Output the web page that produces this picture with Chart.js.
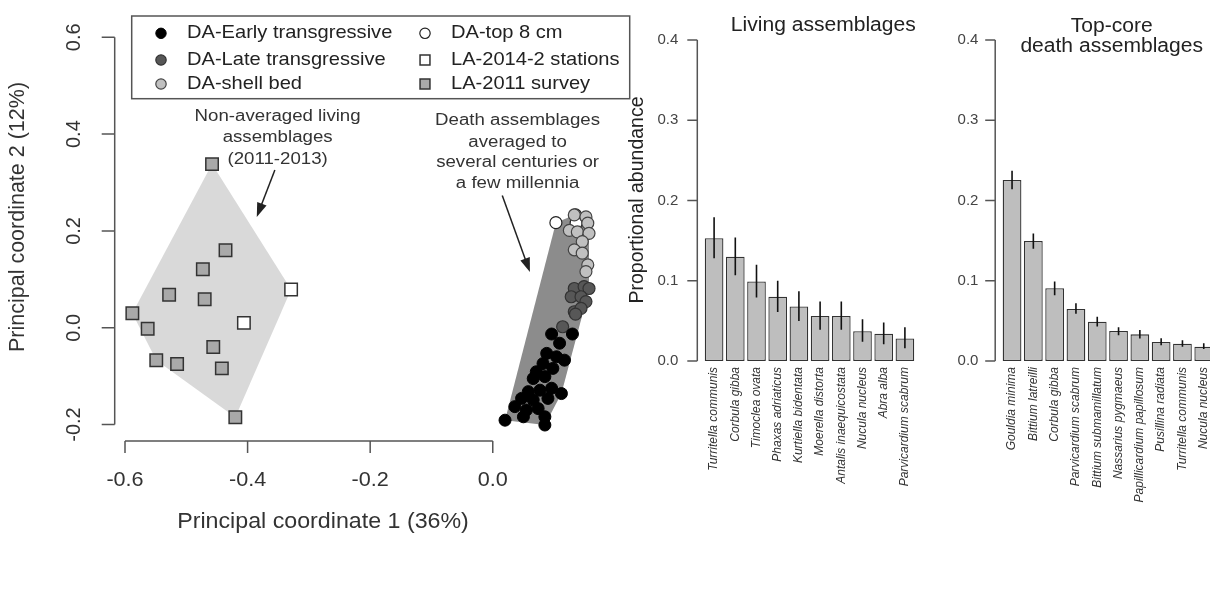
<!DOCTYPE html>
<html>
<head>
<meta charset="utf-8">
<script src="https://cdn.jsdelivr.net/npm/chart.js@4.4.0/dist/chart.umd.min.js"></script>
<style>
    html, body { margin: 0; padding: 0; background: #fff; overflow: hidden; }
    #wrap { position: relative; width: 1210px; height: 593px; overflow: hidden; }
    canvas { position: absolute; top: 0; }
</style>
</head>
<body>
<div id="wrap">
    <canvas id="pcoa-chart" width="640" height="593" style="left:0px"></canvas>
    <canvas id="living-chart" width="320" height="593" style="left:600px"></canvas>
    <canvas id="death-chart" width="320" height="593" style="left:900px"></canvas>
</div>
<script>
// ---- data ----
const pcoaXTicks = [-0.6, -0.4, -0.2, 0.0];
const pcoaYTicks = [-0.2, 0.0, 0.2, 0.4, 0.6];
const barTicks = [0.0, 0.1, 0.2, 0.3, 0.4];

// PCoA scores [coord 1, coord 2]
const laSurvey = [[-0.458, 0.338], [-0.436, 0.160], [-0.473, 0.121], [-0.528, 0.068], [-0.470, 0.059],
    [-0.588, 0.030], [-0.563, -0.002], [-0.549, -0.067], [-0.515, -0.075], [-0.456, -0.040],
    [-0.442, -0.084], [-0.420, -0.185]];
const laStations = [[-0.329, 0.079], [-0.406, 0.010]];
const daTop = [[0.103, 0.217], [0.135, 0.233], [0.136, 0.216]];
const daShellBed = [[0.133, 0.233], [0.152, 0.229], [0.155, 0.216], [0.125, 0.201], [0.138, 0.198],
    [0.157, 0.195], [0.146, 0.178], [0.133, 0.161], [0.146, 0.154], [0.155, 0.130], [0.152, 0.116]];
const daLate = [[0.133, 0.081], [0.149, 0.085], [0.157, 0.081], [0.128, 0.064], [0.144, 0.064],
    [0.152, 0.054], [0.133, 0.033], [0.144, 0.040], [0.114, 0.002], [0.135, 0.028]];
const daEarly = [[0.096, -0.013], [0.130, -0.013], [0.109, -0.032], [0.088, -0.053], [0.104, -0.060],
    [0.117, -0.067], [0.082, -0.074], [0.071, -0.091], [0.098, -0.084], [0.066, -0.105],
    [0.085, -0.101], [0.058, -0.132], [0.077, -0.129], [0.096, -0.125], [0.112, -0.136],
    [0.047, -0.146], [0.066, -0.149], [0.090, -0.146], [0.036, -0.163], [0.055, -0.170],
    [0.074, -0.167], [0.050, -0.184], [0.085, -0.184], [0.020, -0.191], [0.085, -0.201]];

const livingTaxa = ['Turritella communis', 'Corbula gibba', 'Timoclea ovata', 'Phaxas adriaticus',
    'Kurtiella bidentata', 'Moerella distorta', 'Antalis inaequicostata', 'Nucula nucleus',
    'Abra alba', 'Parvicardium scabrum'];
const livingMean = [0.153, 0.130, 0.099, 0.080, 0.068, 0.056, 0.056, 0.037, 0.034, 0.028];
const livingLow = [0.128, 0.107, 0.079, 0.061, 0.050, 0.039, 0.039, 0.024, 0.021, 0.016];
const livingHigh = [0.179, 0.154, 0.120, 0.100, 0.087, 0.074, 0.074, 0.052, 0.048, 0.042];

const deathTaxa = ['Gouldia minima', 'Bittium latreilli', 'Corbula gibba', 'Parvicardium scabrum',
    'Bittium submamillatum', 'Nassarius pygmaeus', 'Papillicardium papillosum', 'Pusillina radiata',
    'Turritella communis', 'Nucula nucleus'];
const deathMean = [0.2255, 0.1495, 0.0906, 0.0648, 0.049, 0.0374, 0.0332, 0.0237, 0.0216, 0.0178];
const deathLow = [0.214, 0.140, 0.082, 0.059, 0.043, 0.032, 0.028, 0.0196, 0.0178, 0.015];
const deathHigh = [0.237, 0.159, 0.099, 0.072, 0.055, 0.042, 0.0386, 0.0283, 0.026, 0.022];

// ---- helpers ----
const FONT = '"Liberation Sans", Arial, Helvetica, sans-serif';
const STRETCH = 1.08; // the source figure is a little wider than tall

const toXY = (pts) => pts.map(p => ({x: p[0], y: p[1]}));

// convex hull (monotone chain), closed
function hull(pts) {
    const p = toXY(pts).sort((a, b) => a.x - b.x || a.y - b.y);
    const cross = (o, a, b) => (a.x - o.x) * (b.y - o.y) - (a.y - o.y) * (b.x - o.x);
    const lower = [], upper = [];
    for (const q of p) {
        while (lower.length >= 2 && cross(lower[lower.length - 2], lower[lower.length - 1], q) <= 0) lower.pop();
        lower.push(q);
    }
    for (const q of p.slice().reverse()) {
        while (upper.length >= 2 && cross(upper[upper.length - 2], upper[upper.length - 1], q) <= 0) upper.pop();
        upper.push(q);
    }
    lower.pop();
    upper.pop();
    const h = lower.concat(upper);
    h.push(h[0]);
    return h;
}

function wideText(ctx, txt, x, y, size, align) {
    ctx.save();
    ctx.translate(x, y);
    ctx.scale(STRETCH, 1);
    ctx.font = size + 'px ' + FONT;
    ctx.textAlign = align || 'center';
    ctx.textBaseline = 'middle';
    ctx.fillText(txt, 0, 0);
    ctx.restore();
}

function upText(ctx, txt, x, y, size) {
    ctx.save();
    ctx.translate(x, y);
    ctx.rotate(-Math.PI / 2);
    ctx.font = size + 'px ' + FONT;
    ctx.textAlign = 'center';
    ctx.textBaseline = 'middle';
    ctx.fillText(txt, 0, 0);
    ctx.restore();
}

function arrow(ctx, x0, y0, x1, y1) {
    const a = Math.atan2(y1 - y0, x1 - x0);
    const len = 15, half = 0.34;
    ctx.beginPath();
    ctx.moveTo(x0, y0);
    ctx.lineTo(x1 - Math.cos(a) * len * 0.8, y1 - Math.sin(a) * len * 0.8);
    ctx.stroke();
    ctx.beginPath();
    ctx.moveTo(x1, y1);
    ctx.lineTo(x1 - len * Math.cos(a - half), y1 - len * Math.sin(a - half));
    ctx.lineTo(x1 - len * Math.cos(a + half), y1 - len * Math.sin(a + half));
    ctx.closePath();
    ctx.fill();
}

// annotations, in data units of the PCoA plot
const notes = [
    {lines: ['Non-averaged living', 'assemblages', '(2011-2013)'], x: -0.351, y: [0.436, 0.393, 0.348],
        from: [-0.3555, 0.326], to: [-0.385, 0.229]},
    {lines: ['Death assemblages', 'averaged to', 'several centuries or', 'a few millennia'], x: 0.0405,
        y: [0.429, 0.384, 0.341, 0.298], from: [0.0155, 0.273], to: [0.0606, 0.115]}
];

// R style axes, legend box and notes for the PCoA plot
const pcoaDecor = {
    id: 'pcoaDecor',
    afterDraw(chart) {
        const {ctx, chartArea: area, scales: {x, y}} = chart;
        ctx.save();
        ctx.strokeStyle = '#555';
        ctx.fillStyle = '#333';
        ctx.lineWidth = 1.5;
        ctx.beginPath();
        ctx.moveTo(x.getPixelForValue(pcoaXTicks[0]), area.bottom);
        ctx.lineTo(x.getPixelForValue(pcoaXTicks[pcoaXTicks.length - 1]), area.bottom);
        pcoaXTicks.forEach(t => {
            const px = x.getPixelForValue(t);
            ctx.moveTo(px, area.bottom);
            ctx.lineTo(px, area.bottom + 12);
        });
        ctx.moveTo(area.left, y.getPixelForValue(pcoaYTicks[0]));
        ctx.lineTo(area.left, y.getPixelForValue(pcoaYTicks[pcoaYTicks.length - 1]));
        pcoaYTicks.forEach(t => {
            const py = y.getPixelForValue(t);
            ctx.moveTo(area.left, py);
            ctx.lineTo(area.left - 13, py);
        });
        ctx.stroke();
        pcoaXTicks.forEach(t => wideText(ctx, t.toFixed(1), x.getPixelForValue(t), area.bottom + 39, 20));
        pcoaYTicks.forEach(t => upText(ctx, t.toFixed(1), area.left - 40, y.getPixelForValue(t), 20));
        wideText(ctx, 'Principal coordinate 1 (36%)', 323, 522, 21.5);
        upText(ctx, 'Principal coordinate 2 (12%)', 18, 217, 21.5);

        // legend
        const lx = area.left + 17, ty = area.top;
        ctx.strokeStyle = '#555';
        ctx.strokeRect(lx, ty, area.right - lx, 82.7);
        const items = chart.data.datasets.filter(d => !d.showLine);
        const rows = [17.3, 44, 68];
        items.forEach((ds, i) => {
            const col = Math.floor(i / 3);
            const sx = lx + (col ? 293.3 : 29.3);
            const sy = ty + rows[i % 3];
            ctx.fillStyle = ds.backgroundColor;
            ctx.strokeStyle = ds.borderColor;
            ctx.lineWidth = ds.borderWidth;
            Chart.helpers.drawPoint(ctx, {
                pointStyle: ds.pointStyle,
                radius: ds.pointStyle === 'rect' ? 7 : 5.2,
                rotation: 0,
                borderWidth: ds.borderWidth
            }, sx, sy);
            ctx.fillStyle = '#222';
            wideText(ctx, ds.label, sx + 26, sy, 18.6, 'left');
        });

        // notes and arrows
        ctx.fillStyle = '#333';
        ctx.strokeStyle = '#222';
        ctx.lineWidth = 1.5;
        notes.forEach(n => {
            n.lines.forEach((line, k) => wideText(ctx, line, x.getPixelForValue(n.x), y.getPixelForValue(n.y[k]), 17.3));
            ctx.fillStyle = '#222';
            arrow(ctx, x.getPixelForValue(n.from[0]), y.getPixelForValue(n.from[1]),
                x.getPixelForValue(n.to[0]), y.getPixelForValue(n.to[1]));
            ctx.fillStyle = '#333';
        });
        ctx.restore();
    }
};

new Chart(document.getElementById('pcoa-chart'), {
    type: 'scatter',
    data: {
        datasets: [{
            label: 'LA hull',
            data: hull(laSurvey.concat(laStations)),
            showLine: true,
            fill: 'shape',
            backgroundColor: '#d9d9d9',
            borderColor: 'rgba(0,0,0,0)',
            borderWidth: 1,
            pointRadius: 0,
            order: 10
        }, {
            label: 'DA hull',
            data: hull(daEarly.concat(daLate, daShellBed, daTop)),
            showLine: true,
            fill: 'shape',
            backgroundColor: '#8c8c8c',
            borderColor: 'rgba(0,0,0,0)',
            borderWidth: 1,
            pointRadius: 0,
            order: 9
        }, {
            label: 'DA-Early transgressive',
            data: toXY(daEarly),
            pointStyle: 'circle',
            pointRadius: 6,
            backgroundColor: '#000000',
            borderColor: '#000000',
            borderWidth: 1,
            order: 1
        }, {
            label: 'DA-Late transgressive',
            data: toXY(daLate),
            pointStyle: 'circle',
            pointRadius: 6,
            backgroundColor: '#575757',
            borderColor: '#333333',
            borderWidth: 1.2,
            order: 2
        }, {
            label: 'DA-shell bed',
            data: toXY(daShellBed),
            pointStyle: 'circle',
            pointRadius: 6,
            backgroundColor: '#c0c0c0',
            borderColor: '#444444',
            borderWidth: 1.2,
            order: 3
        }, {
            label: 'DA-top 8 cm',
            data: toXY(daTop),
            pointStyle: 'circle',
            pointRadius: 6,
            backgroundColor: '#ffffff',
            borderColor: '#222222',
            borderWidth: 1.2,
            order: 4
        }, {
            label: 'LA-2014-2 stations',
            data: toXY(laStations),
            pointStyle: 'rect',
            pointRadius: 8.8,
            backgroundColor: '#ffffff',
            borderColor: '#333333',
            borderWidth: 1.5,
            order: 5
        }, {
            label: 'LA-2011 survey',
            data: toXY(laSurvey),
            pointStyle: 'rect',
            pointRadius: 8.8,
            backgroundColor: '#a9a9a9',
            borderColor: '#333333',
            borderWidth: 1.5,
            order: 6
        }]
    },
    options: {
        responsive: false,
        animation: false,
        events: [],
        layout: {padding: {left: 114.7, right: 4, top: 16, bottom: 152}},
        plugins: {legend: {display: false}, tooltip: {enabled: false}},
        scales: {
            x: {type: 'linear', min: -0.6168, max: 0.2234, display: false},
            y: {type: 'linear', min: -0.234, max: 0.644, display: false}
        }
    },
    plugins: [pcoaDecor]
});

// error bars, R style y axis and titles for the bar panels
function barDecor(low, high, title, titleX, titleY, yTitle) {
    return {
        id: 'barDecor',
        afterDatasetsDraw(chart) {
            const {ctx, scales: {y}} = chart;
            const bars = chart.getDatasetMeta(0).data;
            ctx.save();
            ctx.strokeStyle = '#111';
            ctx.lineWidth = 1.6;
            ctx.beginPath();
            bars.forEach((bar, i) => {
                ctx.moveTo(bar.x, y.getPixelForValue(low[i]));
                ctx.lineTo(bar.x, y.getPixelForValue(high[i]));
            });
            ctx.stroke();
            ctx.restore();
        },
        afterDraw(chart) {
            const {ctx, chartArea: area, scales: {y}} = chart;
            const ax = area.left - 6.2;
            ctx.save();
            ctx.strokeStyle = '#555';
            ctx.lineWidth = 1.5;
            ctx.beginPath();
            ctx.moveTo(ax, y.getPixelForValue(barTicks[0]));
            ctx.lineTo(ax, y.getPixelForValue(barTicks[barTicks.length - 1]));
            barTicks.forEach(t => {
                const py = y.getPixelForValue(t);
                ctx.moveTo(ax, py);
                ctx.lineTo(ax - 10, py);
            });
            ctx.stroke();
            ctx.fillStyle = '#222';
            title.forEach((line, k) => wideText(ctx, line, titleX, titleY[k], 19.5));
            if (yTitle) upText(ctx, yTitle, 38, 200, 19.5);
            ctx.restore();
        }
    };
}

function barOptions(padLeft, padRight, tickPad) {
    return {
        responsive: false,
        animation: false,
        events: [],
        layout: {padding: {left: padLeft, right: padRight, top: 40, bottom: 0}},
        plugins: {legend: {display: false}, tooltip: {enabled: false}},
        scales: {
            x: {
                grid: {display: false, drawTicks: false},
                border: {display: false},
                ticks: {
                    autoSkip: false,
                    minRotation: 90,
                    maxRotation: 90,
                    padding: 6,
                    color: '#333',
                    font: {family: FONT, size: 12, style: 'italic'}
                },
                afterFit: (scale) => {
                    scale.height = 232;
                    scale.paddingLeft = 0;
                    scale.paddingRight = 0;
                }
            },
            y: {
                min: 0,
                max: 0.4,
                grid: {display: false, drawTicks: false},
                border: {display: false},
                ticks: {
                    stepSize: 0.1,
                    padding: tickPad,
                    color: '#444',
                    font: {family: FONT, size: 15},
                    callback: (v) => Number(v).toFixed(1)
                },
                afterFit: (scale) => {
                    scale.width = 60;
                }
            }
        }
    };
}

new Chart(document.getElementById('living-chart'), {
    type: 'bar',
    data: {
        labels: livingTaxa,
        datasets: [{
            label: 'Living assemblages',
            data: livingMean,
            backgroundColor: '#bebebe',
            borderColor: '#333333',
            borderWidth: 1.3,
            borderSkipped: false,
            barPercentage: 0.88,
            categoryPercentage: 1
        }]
    },
    options: barOptions(43.5, 4.5, 25.2),
    plugins: [barDecor(livingLow, livingHigh, ['Living assemblages'], 223.3, [26], 'Proportional abundance')]
});

new Chart(document.getElementById('death-chart'), {
    type: 'bar',
    data: {
        labels: deathTaxa,
        datasets: [{
            label: 'Top-core death assemblages',
            data: deathMean,
            backgroundColor: '#bebebe',
            borderColor: '#333333',
            borderWidth: 1.3,
            borderSkipped: false,
            barPercentage: 0.88,
            categoryPercentage: 1
        }]
    },
    options: barOptions(41.4, 5.6, 23),
    plugins: [barDecor(deathLow, deathHigh, ['Top-core', 'death assemblages'], 211.7, [26.5, 47], null)]
});
</script>
</body>
</html>
